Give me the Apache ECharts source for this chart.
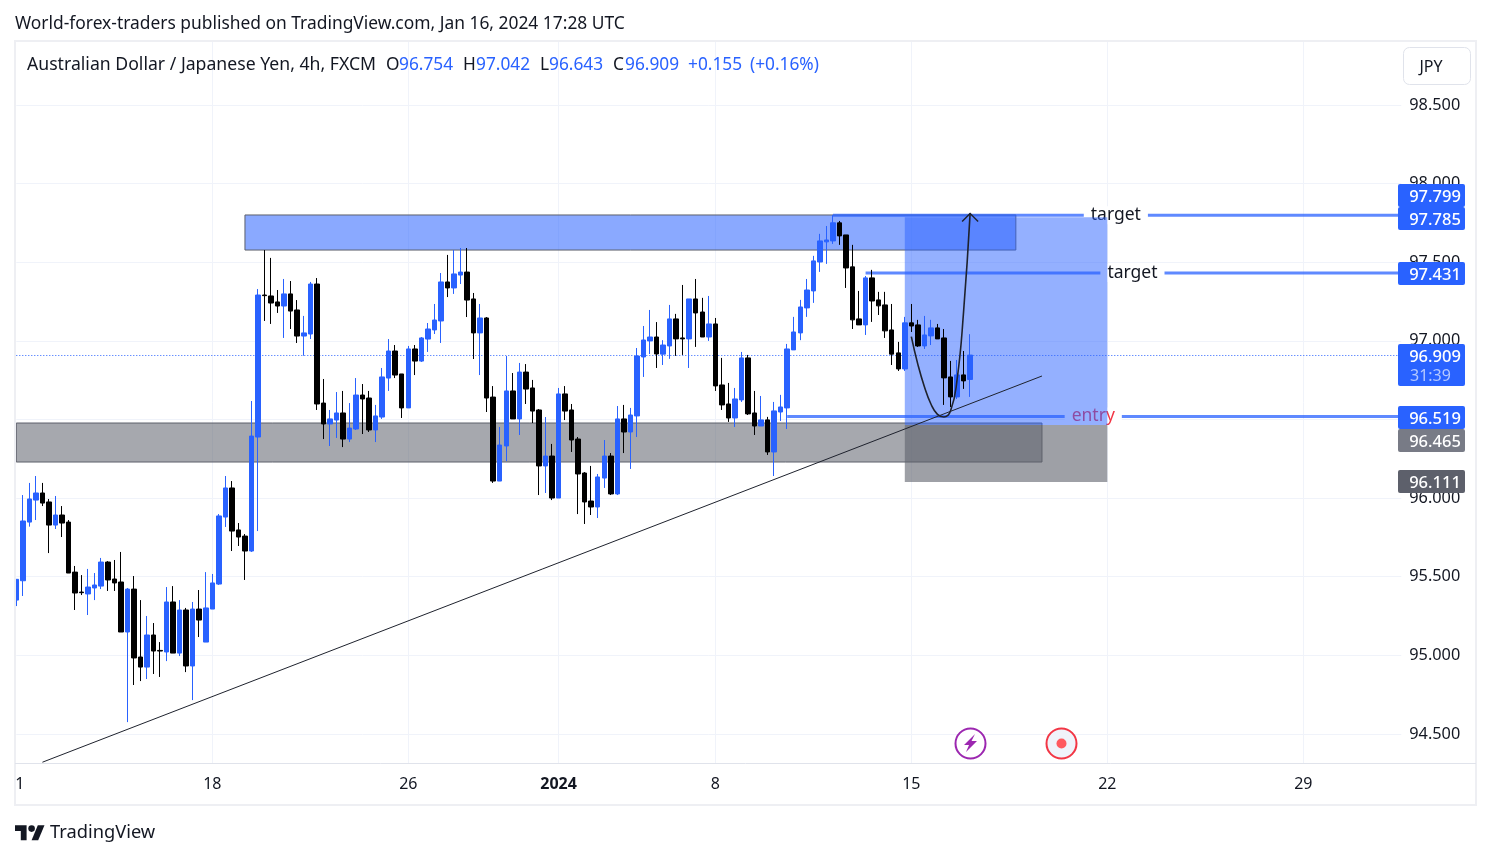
<!DOCTYPE html>
<html>
<head>
<meta charset="utf-8">
<title>AUD/JPY 4h</title>
<script src="https://cdn.jsdelivr.net/npm/echarts@6/dist/echarts.min.js"></script>
<style>
html,body{margin:0;padding:0;background:#fff;}
#chart{width:1491px;height:858px;}
</style>
</head>
<body>
<div id="chart"></div>
<script>
var FONT = '"Noto Sans", sans-serif';

//candles
var opens = [95.351,95.474,95.847,95.987,96.032,95.975,95.828,95.892,95.847,95.529,95.402,95.390,95.428,95.440,95.593,95.485,95.466,95.148,95.421,94.989,
	94.925,95.129,95.031,95.021,95.339,95.014,95.288,94.932,95.294,95.084,95.294,95.453,95.879,96.064,95.797,95.758,95.663,96.388,97.291,97.285,
	97.247,97.221,97.298,97.196,97.030,97.043,97.361,96.604,96.471,96.496,96.541,96.375,96.439,96.655,96.636,96.433,96.515,96.763,96.935,96.789,
	96.573,96.948,96.871,97.011,97.069,97.126,97.374,97.336,97.418,97.437,97.266,97.050,97.145,96.642,96.108,96.331,96.681,96.503,96.801,96.700,
	96.560,96.204,96.267,96.000,96.662,96.560,96.375,96.159,95.981,95.943,96.127,96.267,96.026,96.503,96.420,96.522,96.897,96.999,97.024,96.915,
	96.967,97.139,97.018,97.012,97.266,97.183,97.024,97.107,96.719,96.598,96.509,96.624,96.891,96.541,96.458,96.497,96.293,96.547,96.573,96.942,
	97.050,97.209,97.317,97.501,97.629,97.635,97.750,97.673,97.470,97.139,97.101,97.400,97.260,97.228,97.069,96.923,96.821,97.114,97.101,96.967,
	97.031,97.082,97.018,96.770,96.643,96.783,96.754];
var highs = [95.483,96.019,96.096,96.140,96.096,95.994,96.013,95.949,95.860,95.568,95.510,95.549,95.523,95.619,95.599,95.606,95.657,95.428,95.504,95.351,
	95.250,95.205,95.084,95.434,95.440,95.351,95.301,95.339,95.415,95.529,95.517,95.898,96.140,96.108,95.841,95.771,96.617,97.329,97.577,97.527,
	97.323,97.393,97.380,97.259,97.158,97.374,97.399,96.757,96.560,96.674,96.681,96.604,96.763,96.725,96.681,96.592,96.827,97.011,96.973,96.789,
	96.967,96.973,97.024,97.113,97.234,97.431,97.546,97.577,97.590,97.590,97.304,97.234,97.151,96.712,96.452,96.903,96.795,96.859,96.852,96.751,
	96.566,96.515,96.344,96.700,96.712,96.598,96.388,96.165,96.204,96.153,96.369,96.286,96.585,96.592,96.573,96.954,97.094,97.196,97.119,97.004,
	97.228,97.171,97.355,97.266,97.393,97.273,97.285,97.145,96.891,96.732,96.700,96.929,96.910,96.681,96.649,96.516,96.611,96.656,96.980,97.152,
	97.260,97.393,97.540,97.680,97.730,97.800,97.762,97.673,97.610,97.317,97.412,97.451,97.311,97.311,97.234,96.993,97.152,97.234,97.133,97.158,
	97.133,97.107,97.075,96.872,96.878,96.935,97.042];
var lows = [95.313,95.377,95.818,95.860,95.949,95.650,95.803,95.752,95.523,95.288,95.383,95.256,95.351,95.421,95.409,95.409,95.148,94.575,94.811,94.836,
	94.849,94.881,94.862,94.963,95.014,94.995,94.893,94.715,95.116,95.084,95.294,95.447,95.816,95.663,95.695,95.479,95.657,95.790,97.126,97.107,
	97.177,97.018,97.075,96.986,96.905,97.011,96.560,96.375,96.331,96.382,96.324,96.356,96.433,96.407,96.420,96.356,96.503,96.681,96.763,96.509,
	96.573,96.782,96.865,96.929,97.043,96.986,97.278,97.298,97.361,97.151,96.884,96.782,96.547,96.096,96.108,96.235,96.503,96.401,96.598,96.477,
	96.019,96.032,95.987,96.000,96.496,96.293,95.898,95.835,95.892,95.873,96.064,96.019,96.019,96.286,96.185,96.388,96.770,96.916,96.827,96.846,
	96.885,96.904,96.910,96.827,96.961,97.024,96.999,96.681,96.560,96.484,96.452,96.611,96.528,96.401,96.458,96.274,96.140,96.490,96.439,96.942,
	97.004,97.152,97.241,97.438,97.489,97.616,97.610,97.336,97.075,97.101,97.037,97.120,97.164,97.018,96.846,96.808,96.808,97.056,96.961,96.948,
	96.973,97.012,96.592,96.579,96.630,96.694,96.643];
var closes = [95.483,95.854,95.994,96.032,95.968,95.828,95.892,95.841,95.523,95.396,95.398,95.434,95.447,95.593,95.479,95.460,95.148,95.421,94.983,94.925,
	95.129,95.027,95.027,95.339,95.014,95.288,94.932,95.294,95.224,95.301,95.460,95.886,96.064,95.790,95.752,95.663,96.394,97.291,97.287,97.240,
	97.221,97.298,97.189,97.030,97.050,97.361,96.598,96.471,96.503,96.541,96.375,96.445,96.655,96.630,96.433,96.522,96.770,96.935,96.782,96.573,
	96.948,96.871,97.018,97.075,97.132,97.374,97.336,97.425,97.437,97.259,97.050,97.145,96.636,96.108,96.337,96.681,96.503,96.801,96.693,96.553,
	96.204,96.267,96.000,96.662,96.553,96.369,96.153,95.975,95.943,96.134,96.267,96.026,96.503,96.420,96.528,96.903,97.005,97.024,96.916,96.973,
	97.139,97.012,97.012,97.266,97.177,97.024,97.107,96.713,96.592,96.509,96.630,96.891,96.535,96.458,96.497,96.293,96.554,96.579,96.948,97.056,
	97.215,97.323,97.508,97.635,97.641,97.750,97.667,97.463,97.133,97.101,97.400,97.253,97.222,97.063,96.915,96.821,97.114,97.094,96.967,97.037,
	97.082,97.012,96.764,96.643,96.783,96.745,96.909];

//axis
var priceTicks = [94.5,95,95.5,96,96.5,97,97.5,98,98.5];
var dayTickIndex = [0,30,60,83,107,137,167,197];
var dayTickText = ['1','18','26','2024','8','15','22','29'];
var axisEnd = 212;

//drawings on the chart: [left bar, top price, right bar, bottom price]
var zoneBoxes = [[35,97.800,153,97.577],[0,96.477,157,96.229]];
var toolProfit = [136,97.785,167,96.465];
var toolLoss = [136,96.465,167,96.102];
var rayStart = [125,130,118];
var rayPrice = [97.799,97.431,96.519];
var rayText = ['target','target','entry'];
var rayTextBar = [168,171,165];
var trendBars = [4,157];
var trendPrices = [94.32,96.776];
var curveBars = [137,138,139,140,141,142,143,144,145,146];
var curvePrices = [97.026,96.850,96.708,96.598,96.532,96.515,96.553,96.751,97.185,97.810];

//price scale tags
var tagText = ['97.799','97.785','97.431','96.909','96.519','96.465','96.111'];
var tagColor = ['#2962ff','#2962ff','#2962ff','#2962ff','#2962ff','#787b86','#5d606b'];
var tagTop = [184,207,262,344,406,429,470];

var categories = [];
for(var i=0;i<=axisEnd;i++){
	var p = dayTickIndex.indexOf(i);
	if(p<0){
		categories.push('');
	}else if(dayTickText[p]=='2024'){
		categories.push({value:dayTickText[p],textStyle:{fontWeight:'bold'}});
	}else if(i==0){
		categories.push({value:dayTickText[p],textStyle:{padding:[0,0,0,7]}});
	}else{
		categories.push(dayTickText[p]);
	}
}
var candles = [];
for(var j=0;j<opens.length;j++){
	candles.push([opens[j],closes[j],lows[j],highs[j]]);
}
function isDayTick(idx){
	return dayTickIndex.indexOf(idx)>=0;
}

//filled rectangle between two chart points
function boxItem(box,fill,stroke){
	return function(params,api){
		var a = api.coord([box[0],box[1]]);
		var b = api.coord([box[2],box[3]]);
		return {
			type:'rect',
			shape:{x:a[0],y:a[1],width:b[0]-a[0],height:b[1]-a[1]},
			style:{fill:fill,stroke:stroke||null,lineWidth:stroke?1:0}
		};
	};
}
function boxSeries(name,box,fill,stroke,z){
	return {name:name,type:'custom',z:z,silent:true,data:[box],clip:false,
		encode:{x:[0,2],y:[1,3]},renderItem:boxItem(box,fill,stroke)};
}

var series = [];
series.push(boxSeries('zoneTop',zoneBoxes[0],'rgba(41,98,255,0.55)','#5d606b',1));
series.push(boxSeries('zoneBottom',zoneBoxes[1],'rgba(93,96,107,0.55)','#5d606b',1));
//last price dotted line
series.push({name:'lastPrice',type:'custom',z:1,silent:true,clip:false,data:[[0,closes[closes.length-1]]],
	renderItem:function(params,api){
		var a = api.coord([0,closes[closes.length-1]]);
		var b = api.coord([axisEnd,closes[closes.length-1]]);
		var y = Math.round(a[1])+0.5;
		return {type:'line',shape:{x1:a[0],y1:y,x2:b[0],y2:y},
			style:{stroke:'#2962ff',lineWidth:1,lineDash:[1,2]}};
	}});
//horizontal rays with their text
series.push({name:'rays',type:'custom',z:2,silent:true,clip:false,
	data:rayPrice.map(function(v,k){return [rayStart[k],v];}),
	renderItem:function(params,api){
		var k = params.dataIndex;
		var a = api.coord([rayStart[k],rayPrice[k]]);
		var b = api.coord([axisEnd,rayPrice[k]]);
		var t = api.coord([rayTextBar[k],rayPrice[k]]);
		return {type:'group',children:[
			{type:'line',shape:{x1:a[0],y1:a[1],x2:b[0],y2:b[1]},
				style:{stroke:'rgba(41,98,255,0.75)',lineWidth:3}},
			{type:'text',x:t[0]+(k==0?2:-1),y:t[1],z2:5,style:{text:rayText[k],align:'center',verticalAlign:'middle',
				fontSize:17.5,fontFamily:FONT,fill:rayText[k]=='entry'?'#f23645':'#131722',
				backgroundColor:'#fff',padding:[0,7,0,7]}}
		]};
	}});
series.push(boxSeries('toolProfit',toolProfit,'rgba(41,98,255,0.5)',null,3));
series.push(boxSeries('toolLoss',toolLoss,'rgba(93,96,107,0.6)',null,3));
series.push({name:'AUDJPY',type:'candlestick',z:4,clip:false,silent:true,barWidth:5,data:candles,
	itemStyle:{color:'#2962ff',color0:'#000000',borderColor:'#2962ff',borderColor0:'#000000',borderWidth:1}});
series.push({name:'trend',type:'line',z:5,silent:true,symbol:'none',
	data:trendBars.map(function(v,k){return [v,trendPrices[k]];}),
	lineStyle:{color:'#1e222d',width:1}});
series.push({name:'curve',type:'line',z:5,silent:true,symbol:'none',smooth:0.5,
	data:curveBars.map(function(v,k){return [v,curvePrices[k]];}),
	lineStyle:{color:'#1e222d',width:1.6}});
//arrow head on the end of the curve
series.push({name:'arrow',type:'custom',z:5,silent:true,clip:false,
	data:[[curveBars[curveBars.length-1],curvePrices[curvePrices.length-1]]],
	renderItem:function(params,api){
		var c = api.coord([curveBars[curveBars.length-1],curvePrices[curvePrices.length-1]]);
		return {type:'polyline',shape:{points:[[c[0]-8,c[1]+8],[c[0],c[1]],[c[0]+8,c[1]+8]]},
			style:{stroke:'#1e222d',lineWidth:1.4,fill:null}};
	}});

//texts and furniture around the plot
var G = [];
function addText(x,y,text,size,fill,align,weight){
	G.push({type:'text',x:x,y:y,z:100,silent:true,style:{text:text,fontSize:size,fontFamily:FONT,fill:fill,
		align:align||'left',verticalAlign:'middle',fontWeight:weight||'normal'}});
}
G.push({type:'rect',z:99,silent:true,shape:{x:0,y:30,width:14,height:790},style:{fill:'#fff'}});
G.push({type:'rect',z:99,silent:true,shape:{x:15,y:41,width:1461,height:764},style:{fill:null,stroke:'#eeeff3',lineWidth:2}});
G.push({type:'line',z:99,silent:true,shape:{x1:15,y1:763.5,x2:1476,y2:763.5},style:{stroke:'#e0e3eb',lineWidth:1}});
addText(15,24,'World-forex-traders published on TradingView.com, Jan 16, 2024 17:28 UTC',17.4,'#131722');
addText(27,65,'Australian Dollar / Japanese Yen, 4h, FXCM',17.65,'#131722');
var legendX = [386,399,463,476,540,549,613,625,688,750];
var legendT = ['O','96.754','H','97.042','L','96.643','C','96.909','+0.155','(+0.16%)'];
var legendC = ['#131722','#2962ff','#131722','#2962ff','#131722','#2962ff','#131722','#2962ff','#2962ff','#2962ff'];
for(var m=0;m<legendT.length;m++){
	addText(legendX[m],65,legendT[m],17.3,legendC[m]);
}
//currency button
G.push({type:'rect',z:99,silent:true,shape:{x:1403.5,y:47.5,width:67,height:37,r:6},style:{fill:'#fff',stroke:'#e0e3eb',lineWidth:1}});
addText(1431,67,'JPY',16,'#131722','center');
//price tags
for(var n=0;n<tagText.length;n++){
	var h = tagText[n]=='96.909'?42:23;
	G.push({type:'rect',z:99,silent:true,shape:{x:1398,y:tagTop[n],width:67,height:h,r:2},style:{fill:tagColor[n]}});
	addText(1435,tagTop[n]+13,tagText[n],16.5,'#fff','center','500');
}
addText(1410,tagTop[3]+32,'31:39',16,'#b4c8ff');
//event badges
G.push({type:'circle',z:99,silent:true,shape:{cx:970.5,cy:743.5,r:15},style:{fill:'#fff',stroke:'#9c27b0',lineWidth:2}});
G.push({type:'polygon',z:100,silent:true,shape:{points:[[975,734],[964,745],[969,745],[966,752],[977,741],[971.5,741]]},style:{fill:'#9c27b0'}});
G.push({type:'circle',z:99,silent:true,shape:{cx:1061.5,cy:743.5,r:15},style:{fill:'#f0f3fa',stroke:'#f23645',lineWidth:2}});
G.push({type:'circle',z:100,silent:true,shape:{cx:1061.5,cy:743.5,r:5},style:{fill:'#ff5a5f'}});
//logo
G.push({type:'polygon',z:100,silent:true,shape:{points:[[15,825.3],[26.6,825.3],[26.6,840.3],[20.8,840.3],[20.8,831.1],[15,831.1]]},style:{fill:'#131722'}});
G.push({type:'polygon',z:100,silent:true,shape:{points:[[31.6,840.3],[37.8,825.3],[44.5,825.3],[38.2,840.3]]},style:{fill:'#131722'}});
G.push({type:'circle',z:100,silent:true,shape:{cx:31.6,cy:828.6,r:3.3},style:{fill:'#131722'}});
addText(50,833,'TradingView',18.3,'#131722');

var chart = echarts.init(document.getElementById('chart'));
chart.setOption({
	animation:false,
	backgroundColor:'#ffffff',
	grid:{left:16.3,right:89.7,top:42,bottom:95},
	xAxis:{
		type:'category',
		data:categories,
		boundaryGap:false,
		axisLine:{show:false},
		axisTick:{show:false},
		axisLabel:{interval:function(idx){return isDayTick(idx);},margin:13,fontSize:16,color:'#131722',fontFamily:FONT,hideOverlap:false},
		splitLine:{show:true,interval:function(idx){return isDayTick(idx) && idx>0;},lineStyle:{color:'#f0f3fa',width:1}}
	},
	yAxis:{
		type:'value',
		position:'right',
		min:94.315,
		max:98.9,
		scale:true,
		axisLine:{show:false},
		axisTick:{show:false,customValues:priceTicks},
		axisLabel:{customValues:priceTicks,margin:8,fontSize:16.3,color:'#131722',fontFamily:FONT,padding:[2,0,0,0],
			formatter:function(v){return v.toFixed(3);}},
		splitLine:{show:true,lineStyle:{color:'#f0f3fa',width:1}}
	},
	series:series,
	graphic:{elements:G}
});
</script>
</body>
</html>
